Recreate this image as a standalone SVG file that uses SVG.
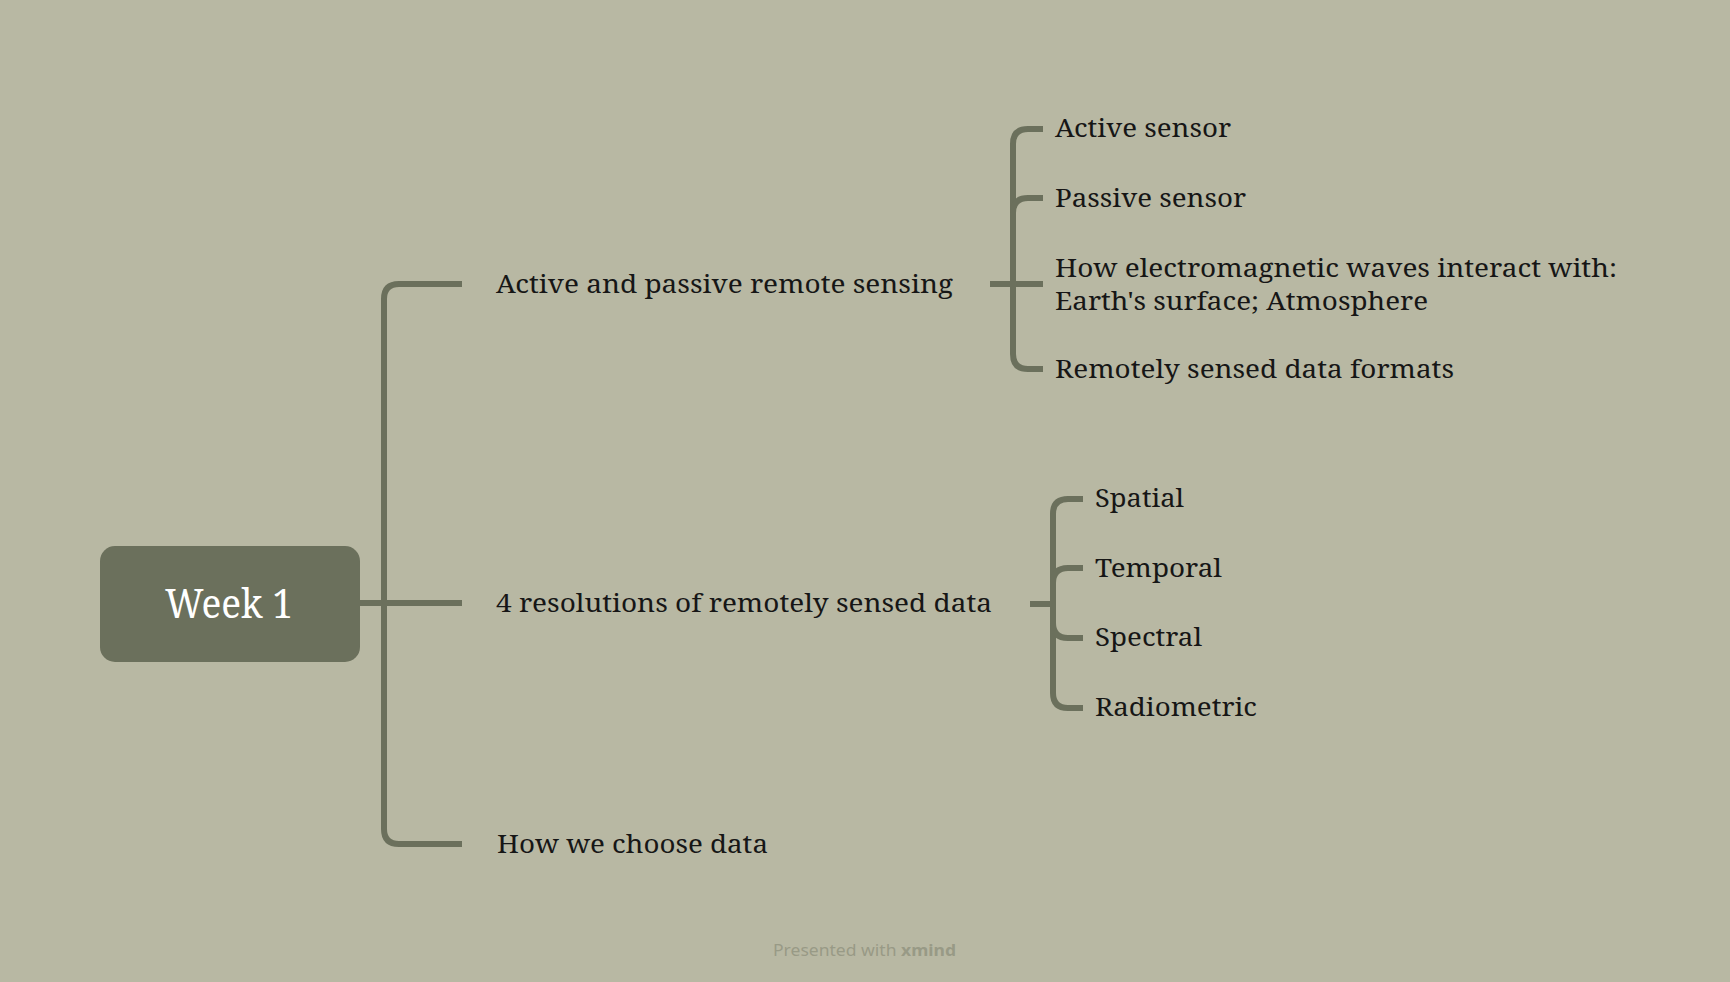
<svg xmlns="http://www.w3.org/2000/svg" width="1730" height="982" viewBox="0 0 1730 982">
<style>
.bg{fill:#b8b8a3}
.ln{fill:none;stroke:#6b705c;stroke-width:6}
.t{font-family:"Noto Serif","DejaVu Serif","Liberation Serif",serif;font-size:26px;fill:#161616}
.root{font-family:"Noto Serif","DejaVu Serif","Liberation Serif",serif;font-size:40px;fill:#ffffff}
.foot{font-family:"Noto Sans","Open Sans","Liberation Sans",sans-serif;font-size:16px;fill:#989a86}
</style>
<rect class="bg" x="0" y="0" width="1730" height="982"/>
<g id="connectors">
<path class="ln" d="M462 284 H399 Q384 284 384 299 V829 Q384 844 399 844 H462"/>
<path class="ln" d="M360 603 H462"/>
<path class="ln" d="M1043 129 H1028 Q1013 129 1013 144 V354 Q1013 369 1028 369 H1043"/>
<path class="ln" d="M1013 213 Q1013 198 1028 198 H1043"/>
<path class="ln" d="M990 284 H1043"/>
<path class="ln" d="M1083 499 H1068 Q1053 499 1053 514 V693 Q1053 708 1068 708 H1083"/>
<path class="ln" d="M1053 583 Q1053 568 1068 568 H1083"/>
<path class="ln" d="M1053 623 Q1053 638 1068 638 H1083"/>
<path class="ln" d="M1030 604 H1053"/>
</g>
<g id="root">
<rect x="100" y="546" width="260" height="116" rx="15" fill="#6b705c"/>
<text class="root" x="229" y="618" text-anchor="middle" textLength="128" lengthAdjust="spacingAndGlyphs">Week 1</text>
</g>
<g id="topic-active-passive">
<text class="t" x="496" y="293" textLength="457" lengthAdjust="spacingAndGlyphs">Active and passive remote sensing</text>
</g>
<g id="topic-resolutions">
<text class="t" x="496" y="612" textLength="496" lengthAdjust="spacingAndGlyphs">4 resolutions of remotely sensed data</text>
</g>
<g id="topic-choose">
<text class="t" x="497" y="853" textLength="271" lengthAdjust="spacingAndGlyphs">How we choose data</text>
</g>
<g id="sub-active-sensor">
<text class="t" x="1055" y="137" textLength="176" lengthAdjust="spacingAndGlyphs">Active sensor</text>
</g>
<g id="sub-passive-sensor">
<text class="t" x="1055" y="207" textLength="191" lengthAdjust="spacingAndGlyphs">Passive sensor</text>
</g>
<g id="sub-em-waves">
<text class="t" x="1055" y="277" font-size="25" textLength="562" lengthAdjust="spacingAndGlyphs">How electromagnetic waves interact with:</text>
<text class="t" x="1055" y="310" font-size="25" textLength="373" lengthAdjust="spacingAndGlyphs">Earth's surface; Atmosphere</text>
</g>
<g id="sub-formats">
<text class="t" x="1055" y="378" textLength="399" lengthAdjust="spacingAndGlyphs">Remotely sensed data formats</text>
</g>
<g id="sub-spatial">
<text class="t" x="1095" y="507" textLength="89" lengthAdjust="spacingAndGlyphs">Spatial</text>
</g>
<g id="sub-temporal">
<text class="t" x="1095" y="577" textLength="127" lengthAdjust="spacingAndGlyphs">Temporal</text>
</g>
<g id="sub-spectral">
<text class="t" x="1095" y="646" textLength="107" lengthAdjust="spacingAndGlyphs">Spectral</text>
</g>
<g id="sub-radiometric">
<text class="t" x="1095" y="716" textLength="162" lengthAdjust="spacingAndGlyphs">Radiometric</text>
</g>
<text class="foot" x="773" y="956" textLength="183" lengthAdjust="spacingAndGlyphs">Presented with <tspan font-weight="bold">xmind</tspan></text>
</svg>
